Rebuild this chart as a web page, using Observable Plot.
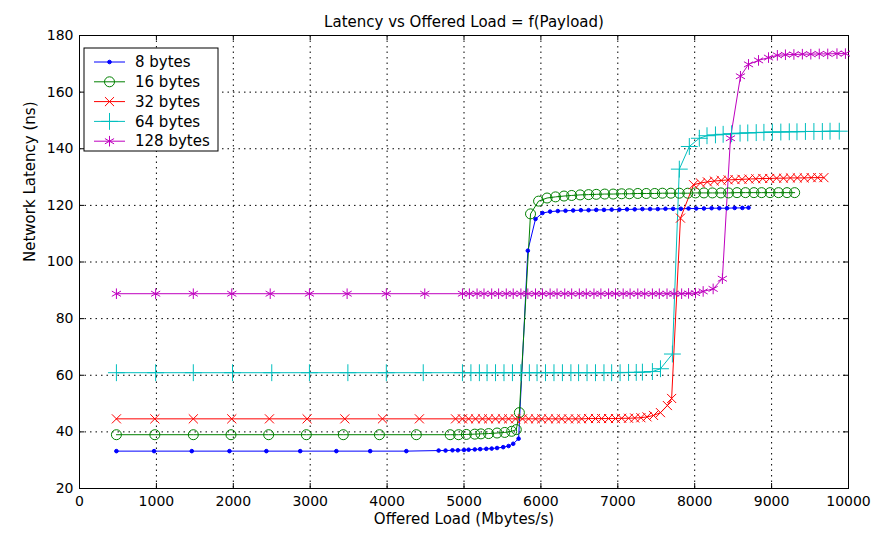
<!DOCTYPE html>
<html><head><meta charset="utf-8">
<script src="https://cdn.jsdelivr.net/npm/d3@7"></script>
<script src="https://cdn.jsdelivr.net/npm/@observablehq/plot@0.6"></script>
<style>body{margin:0;background:#fff} #chart{width:892px;height:538px}</style>
</head><body><div id="chart"></div>
<script>
const title = "Latency vs Offered Load = f(Payload)";
const xLabel = "Offered Load (Mbytes/s)";
const yLabel = "Network Latency (ns)";
const xTicks = [0, 1000, 2000, 3000, 4000, 5000, 6000, 7000, 8000, 9000, 10000];
const yTicks = [20, 40, 60, 80, 100, 120, 140, 160, 180];
const seriesNames = ["8 bytes", "16 bytes", "32 bytes", "64 bytes", "128 bytes"];

const load8 = [480, 970, 1460, 1950, 2430, 2870, 3340, 3780, 4250, 4670, 4760, 4850, 4920, 5000, 5060, 5140, 5210, 5290, 5360, 5430, 5510, 5580, 5640, 5710, 5830, 5930, 6020, 6120, 6220, 6320, 6420, 6520, 6620, 6720, 6820, 6920, 7020, 7120, 7220, 7320, 7420, 7520, 7620, 7720, 7820, 7920, 8020, 8120, 8220, 8320, 8420, 8520, 8620, 8700];
const lat8 = [33.2, 33.2, 33.2, 33.2, 33.2, 33.2, 33.2, 33.2, 33.2, 33.4, 33.4, 33.5, 33.5, 33.6, 33.7, 33.8, 33.9, 34.0, 34.1, 34.3, 34.6, 35.0, 35.8, 37.6, 104, 115.2, 117.3, 117.8, 118.0, 118.1, 118.2, 118.3, 118.3, 118.4, 118.4, 118.5, 118.5, 118.6, 118.6, 118.7, 118.7, 118.7, 118.8, 118.8, 118.8, 118.9, 118.9, 118.9, 119.0, 119.0, 119.0, 119.1, 119.1, 119.2];

const load16 = [480, 980, 1480, 1970, 2460, 2950, 3430, 3900, 4380, 4820, 4930, 5030, 5140, 5220, 5320, 5430, 5530, 5620, 5680, 5720, 5865, 5970, 6080, 6190, 6300, 6400, 6510, 6620, 6720, 6830, 6940, 7050, 7150, 7260, 7370, 7480, 7580, 7690, 7800, 7910, 8010, 8120, 8230, 8340, 8440, 8550, 8660, 8770, 8870, 8980, 9090, 9200, 9300];
const lat16 = [39.0, 39.0, 39.0, 39.0, 39.0, 39.0, 39.0, 39.0, 39.0, 39.0, 39.0, 39.1, 39.2, 39.3, 39.4, 39.6, 39.8, 40.2, 40.8, 46.8, 117.0, 121.5, 122.6, 123.0, 123.3, 123.5, 123.7, 123.8, 123.9, 124.0, 124.0, 124.1, 124.1, 124.2, 124.2, 124.2, 124.3, 124.3, 124.3, 124.3, 124.4, 124.4, 124.4, 124.4, 124.4, 124.5, 124.5, 124.5, 124.5, 124.5, 124.5, 124.5, 124.5];

const load32 = [480, 980, 1480, 1980, 2470, 2960, 3450, 3940, 4420, 4890, 4980, 5060, 5150, 5240, 5320, 5410, 5500, 5580, 5670, 5760, 5840, 5930, 6010, 6100, 6190, 6270, 6360, 6450, 6530, 6620, 6710, 6790, 6880, 6970, 7050, 7140, 7220, 7300, 7380, 7465, 7555, 7645, 7700, 7815, 7985, 8075, 8165, 8255, 8345, 8435, 8525, 8615, 8705, 8795, 8885, 8975, 9065, 9155, 9245, 9335, 9425, 9515, 9600, 9680];
const lat32 = [44.6, 44.6, 44.6, 44.6, 44.6, 44.6, 44.6, 44.6, 44.6, 44.6, 44.6, 44.6, 44.6, 44.6, 44.6, 44.6, 44.6, 44.6, 44.6, 44.6, 44.6, 44.6, 44.6, 44.6, 44.6, 44.6, 44.6, 44.6, 44.6, 44.7, 44.7, 44.7, 44.7, 44.7, 44.8, 44.8, 44.9, 45.0, 45.3, 45.8, 46.8, 49.3, 51.8, 115.5, 127.3, 127.9, 128.3, 128.6, 128.8, 129.0, 129.1, 129.2, 129.3, 129.4, 129.5, 129.5, 129.6, 129.6, 129.7, 129.7, 129.7, 129.8, 129.8, 129.8];

const load64 = [480, 990, 1480, 1990, 2500, 2990, 3490, 3990, 4470, 4980, 5090, 5200, 5300, 5410, 5520, 5630, 5740, 5850, 5950, 6060, 6170, 6280, 6390, 6490, 6600, 6710, 6820, 6920, 7030, 7140, 7240, 7320, 7450, 7555, 7710, 7800, 7930, 8060, 8160, 8270, 8370, 8480, 8590, 8690, 8800, 8900, 9010, 9120, 9230, 9330, 9440, 9550, 9660, 9760, 9880];
const lat64 = [60.9, 60.9, 60.9, 60.9, 60.9, 60.9, 60.9, 60.9, 60.9, 60.9, 60.9, 60.9, 60.9, 60.9, 60.9, 60.9, 60.9, 60.9, 60.9, 60.9, 60.9, 60.9, 60.9, 60.9, 60.9, 60.9, 60.9, 60.9, 60.9, 61.0, 61.0, 61.1, 61.3, 62.3, 67.5, 132.8, 140.8, 143.7, 144.6, 144.9, 145.1, 145.3, 145.5, 145.6, 145.7, 145.8, 145.9, 145.9, 146.0, 146.0, 146.1, 146.1, 146.1, 146.2, 146.2];

const load128 = [480, 990, 1480, 1980, 2480, 2990, 3480, 3990, 4490, 4980, 5070, 5170, 5260, 5360, 5450, 5550, 5640, 5740, 5830, 5930, 6020, 6120, 6210, 6310, 6400, 6500, 6590, 6690, 6780, 6880, 6970, 7070, 7160, 7260, 7350, 7450, 7540, 7640, 7730, 7830, 7920, 8010, 8110, 8240, 8360, 8465, 8595, 8700, 8830, 8960, 9075, 9180, 9290, 9400, 9510, 9620, 9730, 9850, 9960];
const lat128 = [88.8, 88.8, 88.8, 88.8, 88.8, 88.8, 88.8, 88.8, 88.8, 88.8, 88.8, 88.8, 88.8, 88.8, 88.8, 88.8, 88.8, 88.8, 88.8, 88.8, 88.8, 88.8, 88.8, 88.8, 88.8, 88.8, 88.8, 88.8, 88.8, 88.8, 88.8, 88.8, 88.8, 88.8, 88.8, 88.8, 88.8, 88.8, 88.8, 88.8, 88.9, 89.0, 89.6, 90.5, 94.1, 143.7, 165.6, 169.8, 171.2, 172.2, 173.0, 173.2, 173.3, 173.4, 173.4, 173.5, 173.5, 173.6, 173.6];

const loads = [load8, load16, load32, load64, load128];
const lats = [lat8, lat16, lat32, lat64, lat128];
const colors = ["#0000ff", "#008000", "#ff0000", "#00bfbf", "#bf00bf"];
const symbols = ["circle", "circle", "times", "plus", "asterisk"];
const radii = [1.8, 5, 4.2, 5.5, 5];
const fills = ["#0000ff", "none", "none", "none", "none"];

const series = seriesNames.map((name, k) => ({
  name, color: colors[k], symbol: symbols[k], r: radii[k], fill: fills[k],
  rows: loads[k].map((x, i) => ({series: name, x, y: lats[k][i]}))
}));

const W = 892, H = 538, mL = 79, mR = 44, mT = 35, mB = 50;
const tickY = 5 * 160 / (H - mT - mB);
const tickX = 5 * 10000 / (W - mL - mR);

const marks = [
  Plot.ruleX(xTicks, {stroke: "black", strokeWidth: 1, strokeDasharray: "1.5,4"}),
  Plot.ruleY(yTicks, {stroke: "black", strokeWidth: 1, strokeDasharray: "1.5,4"}),
  Plot.ruleX(xTicks, {y1: 20, y2: 20 + tickY, stroke: "black"}),
  Plot.ruleX(xTicks, {y1: 180 - tickY, y2: 180, stroke: "black"}),
  Plot.ruleY(yTicks, {x1: 0, x2: tickX, stroke: "black"}),
  Plot.ruleY(yTicks, {x1: 10000 - tickX, x2: 10000, stroke: "black"}),
  Plot.frame({stroke: "black", strokeWidth: 1}),
  Plot.axisX({ticks: xTicks, tickSize: 0, tickPadding: 8, label: null, tickFormat: d => String(d)}),
  Plot.axisY({ticks: yTicks, tickSize: 0, tickPadding: 6, label: null, tickFormat: d => String(d)}),
  Plot.text([title], {frameAnchor: "top", dy: -19, fontSize: 15}),
  Plot.text([xLabel], {frameAnchor: "bottom", dy: 35, fontSize: 15}),
  Plot.text([yLabel], {frameAnchor: "left", dx: -49, rotate: -90, fontSize: 15})
];
for (const s of series) {
  marks.push(Plot.line(s.rows, {x: "x", y: "y", stroke: s.color, strokeWidth: 1}));
}
for (const s of series) {
  marks.push(Plot.dot(s.rows, {x: "x", y: "y", symbol: () => s.symbol, r: s.r, stroke: s.color, fill: s.fill, strokeWidth: 1}));
}

const svg = Plot.plot({
  width: W, height: H,
  marginLeft: mL, marginRight: mR, marginTop: mT, marginBottom: mB,
  x: {domain: [0, 10000], axis: null},
  y: {domain: [20, 180], axis: null},
  style: {fontFamily: "DejaVu Sans", fontSize: "14px", color: "black", background: "white", overflow: "visible"},
  marks
});

// legend (MATLAB-style box in the upper left)
const d3sym = {circle: d3.symbolCircle, times: d3.symbolTimes, plus: d3.symbolPlus, asterisk: d3.symbolAsterisk};
const lg = d3.select(svg).append("g").attr("transform", "translate(84,48)");
lg.append("rect").attr("width", 134).attr("height", 103).attr("fill", "white").attr("stroke", "black");
series.forEach((s, i) => {
  const y = 14 + i * 19.8;
  lg.append("line").attr("x1", 10).attr("x2", 41).attr("y1", y).attr("y2", y).attr("stroke", s.color);
  lg.append("path").attr("transform", `translate(25.5,${y})`)
    .attr("d", d3.symbol(d3sym[s.symbol], s.r * s.r * Math.PI)())
    .attr("stroke", s.color).attr("fill", s.fill);
  lg.append("text").attr("x", 51).attr("y", y).attr("dy", "0.35em")
    .attr("text-anchor", "start").attr("font-size", 15).attr("fill", "black").text(s.name);
});

document.getElementById("chart").appendChild(svg);
</script>
</body></html>
